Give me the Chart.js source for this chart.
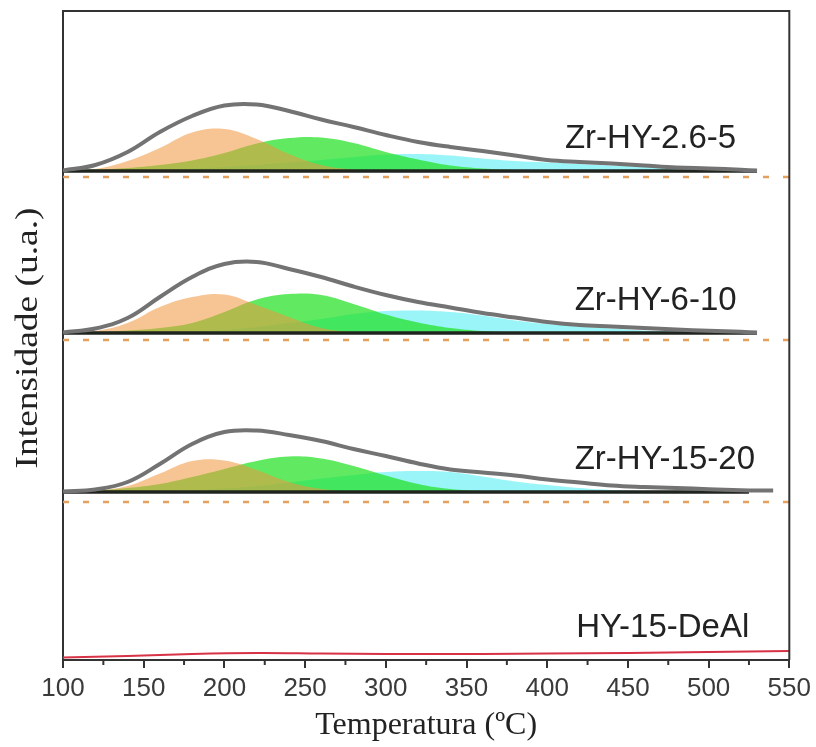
<!DOCTYPE html>
<html lang="pt">
<head>
<meta charset="UTF-8">
<title>TPD - Intensidade vs Temperatura</title>
<script src="https://cdn.jsdelivr.net/npm/chart.js"></script>
<style>
    html, body { margin: 0; padding: 0; background: #fff; }
    #wrap { width: 816px; height: 747px; }
</style>
</head>
<body>
<div id="wrap"><canvas id="tpd" width="816" height="747"></canvas></div>
<script>
// temperature grid (ºC) shared by the deconvoluted curves
const temps = [100, 120, 140, 160, 180, 200, 220, 240, 260, 280, 300, 320, 340, 360, 380, 400, 420, 440, 460, 480, 500, 520, 530, 540];

// Zr-HY-2.6-5
const grayA   = [0.5, 6, 19, 39, 55, 65.5, 66.5, 60, 51.5, 44, 36, 29, 24, 20, 15.5, 11, 9, 7.5, 5.5, 3.5, 2.5, 1.2, 0.5, null];
const orangeA = [0, 2, 10, 23, 38.5, 42, 32, 17, 6, 1.5, 0, 0, 0, 0, 0, 0, 0, 0, 0, 0, 0, 0, 0, null];
const greenA  = [0.5, 1.5, 3, 6, 10.5, 18, 27.5, 33, 33.5, 28, 19, 11.5, 5.5, 2.5, 1, 0.3, 0, 0, 0, 0, 0, 0, 0, null];
const cyanA   = [0, 0.3, 0.8, 1.5, 2.5, 4, 6, 8.5, 11, 14, 16.5, 17, 15.5, 12.5, 10, 8.5, 7, 5.5, 4.5, 3.5, 2.5, 1.2, 0.8, null];

// Zr-HY-6-10
const grayB   = [0.5, 4.5, 15, 36, 56, 69, 71, 64, 56, 46.5, 38, 31, 25.5, 20, 15.5, 11, 8, 6.5, 5, 3.5, 2.3, 1.2, 0.5, null];
const orangeB = [0, 2, 10, 26, 36, 38.5, 28, 16, 5, 1, 0, 0, 0, 0, 0, 0, 0, 0, 0, 0, 0, 0, 0, null];
const greenB  = [0.3, 1, 2.5, 5, 10, 21, 33.5, 39, 38, 29, 18.5, 10.5, 5, 2, 0.7, 0.2, 0, 0, 0, 0, 0, 0, 0, null];
const cyanB   = [0, 0, 0.3, 0.8, 1.5, 3, 6, 10, 14, 19, 22, 22.5, 21, 17.5, 12.5, 9, 6.5, 4.5, 2.5, 1.5, 0.8, 0.3, 0, null];

// Zr-HY-15-20
const grayC   = [0.5, 2.5, 10, 28, 48, 60, 61.5, 57, 51, 43, 36, 28.5, 22.5, 19.5, 16.5, 12.5, 9.5, 6.5, 5, 4, 2.8, 1.8, 1.5, 1.5];
const orangeC = [0, 1.5, 6, 18.5, 31, 31.5, 22, 10, 3, 0.5, 0, 0, 0, 0, 0, 0, 0, 0, 0, 0, 0, 0, 0, 0];
const greenC  = [0.5, 1.5, 4, 8, 15, 23, 31, 35.5, 33.5, 26, 16.5, 8, 3, 1, 0.3, 0, 0, 0, 0, 0, 0, 0, 0, 0];
const cyanC   = [0, 0, 0.3, 0.8, 1.8, 3.5, 6, 9.5, 13.5, 17, 20, 21, 20, 15.5, 10.5, 7, 4, 2, 1, 0.5, 0.2, 0, 0, 0];

// HY-15-DeAl
const redTemps = [100, 140, 180, 220, 260, 300, 360, 400, 450, 500, 550];
const redVals  = [2.5, 4, 6, 7, 6.5, 6, 6, 6.5, 7, 8, 9];

const names = ['Zr-HY-2.6-5', 'Zr-HY-6-10', 'Zr-HY-15-20', 'HY-15-DeAl'];
const offsets = [489, 327, 168, 0];      // vertical stacking of the curves
const dashLevels = [483, 320, 158];      // orange dashed reference lines
const baseEnd = [530, 530, 525];         // where each fitted baseline stops
const xTicks = [100, 150, 200, 250, 300, 350, 400, 450, 500, 550];

const grays = [grayA, grayB, grayC];
const oranges = [orangeA, orangeB, orangeC];
const greens = [greenA, greenB, greenC];
const cyans = [cyanA, cyanB, cyanC];

function pts(vals, off) {
    return temps.map((t, i) => vals[i] == null ? null : { x: t, y: off + vals[i] }).filter(Boolean);
}

const datasets = [];
for (let i = 0; i < 3; i++) {
    const off = offsets[i];
    datasets.push({ data: pts(cyans[i], off), fill: { value: off }, backgroundColor: 'rgba(100,240,245,0.65)', borderWidth: 0, order: 50 });
    datasets.push({ data: pts(greens[i], off), fill: { value: off }, backgroundColor: 'rgba(30,225,30,0.7)', borderWidth: 0, order: 40 });
    datasets.push({ data: pts(oranges[i], off), fill: { value: off }, backgroundColor: 'rgba(240,150,60,0.55)', borderWidth: 0, order: 30 });
    datasets.push({ data: [{ x: 100, y: dashLevels[i] }, { x: 550, y: dashLevels[i] }], borderColor: 'rgba(228,155,85,0.95)', borderWidth: 2.5, borderDash: [6, 14], tension: 0, order: 60 });
    datasets.push({ data: [{ x: 100, y: off }, { x: baseEnd[i], y: off }], borderColor: '#1f241f', borderWidth: 3.5, tension: 0, order: 20 });
    datasets.push({ data: pts(grays[i], off), borderColor: 'rgb(115,115,115)', borderWidth: 4, order: 10 });
}
datasets.push({
    data: redTemps.map((t, i) => ({ x: t, y: offsets[3] + redVals[i] })),
    borderColor: 'rgb(215,50,70)', borderWidth: 2, order: 5
});

// frame, minor ticks, sample names and axis titles
const decor = {
    id: 'decor',
    afterDraw(chart) {
        const { ctx, chartArea: a, scales: { x, y } } = chart;
        ctx.save();
        ctx.strokeStyle = '#333';
        ctx.lineWidth = 2;
        ctx.beginPath();
        ctx.moveTo(a.left, a.top);
        ctx.lineTo(a.right, a.top);
        ctx.lineTo(a.right, a.bottom);
        ctx.stroke();
        for (let t = 125; t < 550; t += 50) {
            const px = x.getPixelForValue(t);
            ctx.beginPath();
            ctx.moveTo(px, a.bottom);
            ctx.lineTo(px, a.bottom + 5);
            ctx.stroke();
        }

        const labelT = [411, 417, 417, 418];
        ctx.fillStyle = '#222';
        ctx.font = '33px "Liberation Sans", Arial, sans-serif';
        ctx.textBaseline = 'middle';
        names.forEach((n, i) => {
            ctx.fillText(n, x.getPixelForValue(labelT[i]), y.getPixelForValue(offsets[i] + 32));
        });

        ctx.font = '32px "Liberation Serif", "Times New Roman", serif';
        ctx.textAlign = 'center';
        ctx.fillText('Temperatura (ºC)', (a.left + a.right) / 2, 726);
        ctx.translate(29, 338);
        ctx.rotate(-Math.PI / 2);
        ctx.scale(1.17, 1);
        ctx.fillText('Intensidade (u.a.)', 0, 0);
        ctx.restore();
    }
};

new Chart(document.getElementById('tpd'), {
    type: 'line',
    data: { datasets },
    options: {
        responsive: false,
        animation: false,
        layout: { padding: { top: 11, right: 23, left: 0, bottom: 0 } },
        elements: {
            point: { radius: 0 },
            line: { tension: 0.4, fill: false }
        },
        plugins: { legend: { display: false }, tooltip: { enabled: false } },
        scales: {
            x: {
                type: 'linear',
                min: 100,
                max: 550,
                afterBuildTicks(scale) { scale.ticks = xTicks.map(v => ({ value: v })); },
                afterFit(scale) { scale.height = 87; },
                border: { color: '#333', width: 2 },
                grid: { drawOnChartArea: false, drawTicks: true, tickLength: 8, color: '#333', lineWidth: 2 },
                ticks: {
                    color: '#3a3a3a',
                    padding: 5,
                    maxRotation: 0,
                    font: { family: '"Liberation Sans", Arial, sans-serif', size: 26 }
                }
            },
            y: {
                min: 0,
                max: 649,
                afterFit(scale) { scale.width = 63; },
                border: { color: '#333', width: 2 },
                grid: { display: false },
                ticks: { display: false }
            }
        }
    },
    plugins: [decor]
});
</script>
</body>
</html>
